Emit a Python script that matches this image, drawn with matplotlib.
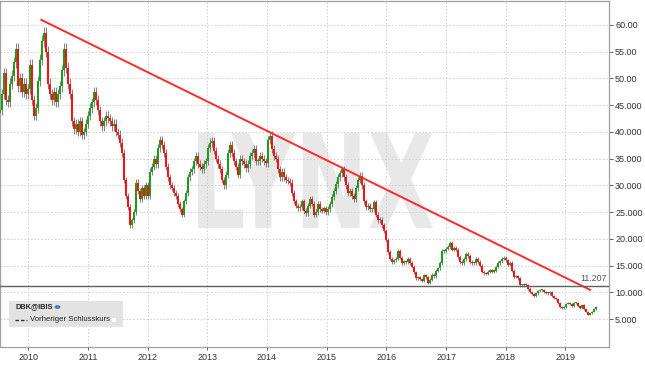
import matplotlib
matplotlib.use("Agg")
import matplotlib.pyplot as plt
import matplotlib.dates as mdates
from matplotlib.textpath import TextPath
from matplotlib.patches import PathPatch, Rectangle, Circle
from matplotlib.font_manager import FontProperties
from matplotlib.transforms import Affine2D
import pandas as pd

# ---------------- data ----------------
closes = [
    44, 47, 51, 46, 45.5, 49, 50.5, 53, 55.5, 48.5, 50, 47.5, 49, 47, 48, 52.5, 46, 43, 44.5, 49.5, 53.5,
    57, 58.5, 55, 49, 47, 46, 47.5, 45.5, 47, 48.5, 51.5, 55.5, 52, 49, 47, 42, 40.5, 41.5, 40, 42,
    39.5, 40, 41.5, 43, 44.5, 45.5, 47.5, 46, 44, 42, 41, 42, 43, 42.5, 42, 41, 41.5, 40, 39.5, 38,
    36, 31, 28, 26, 22.5, 23.5, 25, 30.5, 29, 27.5, 29.5, 28, 30, 28, 32.5, 33.5, 35, 34, 37, 38.5,
    37.5, 36, 33.5, 31.5, 30, 29.5, 28.5, 28, 26.5, 25.5, 24.5, 27, 28.5, 31.5, 32.5, 33, 34.5, 35.5, 34, 33.5,
    33, 34, 34.5, 37, 38, 38.3, 36.5, 35, 34, 33, 31, 30, 32, 36, 37.5, 36, 34.5, 33.5, 32, 35,
    34.5, 34, 33.2, 34, 35.5, 36, 36.8, 34.5, 34.5, 35.5, 35, 34.5, 34.2, 38.5, 39.3, 36.8, 35.5, 35, 33, 31.5,
    32.5, 31.5, 31, 30.8, 30.5, 28.5, 27, 26.2, 25.8, 26, 27, 25.2, 24.8, 26.2, 27.5, 26.6, 24.5, 25, 26.5, 25.5,
    25.3, 25.7, 25, 25.6, 26.5, 27.8, 29, 30.2, 31.5, 32.3, 33, 31.5, 30, 28.5, 29, 28, 27.5, 29.5, 31, 31.8,
    30, 27, 26, 26.2, 25.5, 25.5, 26.8, 24.5, 23.5, 23.6, 22.5, 21.5, 19.8, 17.5, 16.3, 15.7, 16, 16.3, 17.8, 16.5,
    15.5, 15.8, 15.6, 16.2, 15.5, 14.8, 13.8, 12.6, 12.8, 12.5, 12.2, 13.2, 12.8, 11.8, 12.4, 13.3, 13, 14, 14.5, 15.5,
    17.8, 17.8, 18.2, 18.4, 19.3, 18, 18.3, 18, 16.6, 15.7, 15.4, 16.2, 17.2, 16.8, 15.7, 15.4, 15.5, 16.2, 15.7, 15,
    13.9, 13.6, 13.5, 13.9, 14, 13.9, 14, 14.8, 15.5, 15.8, 16.3, 16.5, 16, 15.2, 15.5, 14, 12.9, 13, 12.6, 11.3,
    11.3, 11.6, 11.4, 10.7, 10.1, 9.7, 9.3, 9.8, 10.2, 10.4, 10.4, 10.1, 9.9, 9.8, 10.1, 9.4, 8.9, 8.7, 8, 7.3,
    7, 7.3, 7.9, 8.1, 7.8, 7.5, 8, 8, 7.5, 7.1, 7.7, 6.9, 6.4, 5.8, 6.1, 6.4, 6.9, 7.3,
]
first_open = 43.5
start_date = "2009-07-13"
end_date = "2019-07-07"

trend_dates = ["2010-03-17", "2019-06-06"]
trend_values = [61.0, 10.4]
prev_close = 11.207

yticks = [5, 10, 15, 20, 25, 30, 35, 40, 45, 50, 55, 60]
ytick_labels = ["5.000", "10.000", "15.000", "20.000", "25.000", "30.000",
                "35.000", "40.000", "45.000", "50.00", "55.00", "60.00"]
years = [2010, 2011, 2012, 2013, 2014, 2015, 2016, 2017, 2018, 2019]

# ---------------- figure ----------------
plt.rcParams["font.family"] = ["Liberation Sans", "DejaVu Sans"]
fig = plt.figure(figsize=(6.45, 3.66), dpi=100)
fig.patch.set_facecolor("white")
ax = fig.add_axes([0.0, 0.052, 0.944, 0.946])
ax.set_facecolor("white")

dates = pd.date_range(start_date, end_date, periods=len(closes))
dnum = mdates.date2num(dates)
opens = [first_open] + closes[:-1]

wick_pad = 0.02  # visual wick length (fraction of price)
highs = [max(o, c) * (1 + wick_pad) for o, c in zip(opens, closes)]
lows = [min(o, c) * (1 - wick_pad) for o, c in zip(opens, closes)]

ax.vlines(dnum, lows, highs, color="#555555", lw=0.7, zorder=2, alpha=0.75)
body_bottom = [min(o, c) for o, c in zip(opens, closes)]
body_h = [max(abs(c - o), 0.2) for o, c in zip(opens, closes)]
body_col = ["#1a9e1a" if c >= o else "#ff1010" for o, c in zip(opens, closes)]
ax.bar(dnum, body_h, bottom=body_bottom, width=10.5, color=body_col, lw=0, zorder=3)

# trend line
ax.plot(mdates.date2num(pd.to_datetime(trend_dates)), trend_values,
        color="#ff2a2a", lw=1.4, zorder=4, solid_capstyle="butt")

# previous close
ax.axhline(prev_close, color="#606060", lw=1.0, zorder=4)
ax.text(0.997, prev_close + 0.6, f"{prev_close:.3f}", transform=ax.get_yaxis_transform(),
        ha="right", va="bottom", fontsize=6.3, color="#555555", zorder=5)

# axes setup
ax.set_xlim(mdates.date2num(pd.Timestamp("2009-07-12")), mdates.date2num(pd.Timestamp("2019-09-24")))
ax.set_ylim(-0.2, 64.5)
ax.yaxis.tick_right()
ax.set_yticks(yticks)
ax.set_yticklabels(ytick_labels)
ax.set_xticks(mdates.date2num([pd.Timestamp(f"{y}-01-01") for y in years]))
ax.set_xticklabels([str(y) for y in years])
ax.tick_params(axis="y", length=3, pad=1.5, labelsize=6.5, colors="#444444", width=0.6)
ax.tick_params(axis="x", length=2, pad=2.5, labelsize=6.5, colors="#444444", width=0.6)
for lab in ax.get_xticklabels() + ax.get_yticklabels():
    lab.set_color("#333333")
ax.set_axisbelow(True)
ax.grid(True, color="#cccccc", lw=0.7, linestyle=(0, (1.5, 2)))
for s in ax.spines.values():
    s.set_color("#a0a0a0")
    s.set_linewidth(0.9)

# watermark
tp = TextPath((0, 0), "LYNX", size=1, prop=FontProperties(family="DejaVu Sans", weight="bold"))
ext = tp.get_extents()
x0, x1 = 198 / 645, 433 / 645
y0, y1 = (366 - 228) / 366, (366 - 133) / 366
tr = Affine2D().translate(-ext.x0, -ext.y0).scale((x1 - x0) / ext.width, (y1 - y0) / ext.height).translate(x0, y0)
wm = PathPatch(tp, transform=tr + fig.transFigure, facecolor="#e8e8e8", edgecolor="none", zorder=0.2)
ax.add_artist(wm)

# legend box
fig.patches.append(Rectangle((9 / 645, (366 - 327) / 366), 114 / 645, 26 / 366,
                             transform=fig.transFigure, facecolor="#e3e3e3", edgecolor="none", zorder=10))
fig.text(15 / 645, (366 - 307) / 366, "DBK@IBIS", fontsize=5.3, fontweight="bold", color="#222222",
         va="center", ha="left", zorder=11)
fig.patches.append(Circle((57.5 / 645, (366 - 307) / 366), 2.6 / 645, transform=fig.transFigure,
                          facecolor="#4a86c8", edgecolor="#2a5a9a", lw=0.4, zorder=11))
fig.lines.append(plt.Line2D([15 / 645, 27 / 645], [(366 - 319.5) / 366] * 2, transform=fig.transFigure,
                            color="#333333", lw=1.0, linestyle=(0, (2.5, 1.5)), zorder=11))
fig.text(30 / 645, (366 - 319.5) / 366, "Vorheriger Schlusskurs", fontsize=5.6, color="#222222",
         va="center", ha="left", zorder=11)
fig.patches.append(Rectangle((111 / 645, (366 - 322) / 366), 5 / 645, 5 / 366, transform=fig.transFigure,
                             facecolor="white", edgecolor="#dddddd", lw=0.4, zorder=11))

fig.savefig("out.png", dpi=100, facecolor="white")
